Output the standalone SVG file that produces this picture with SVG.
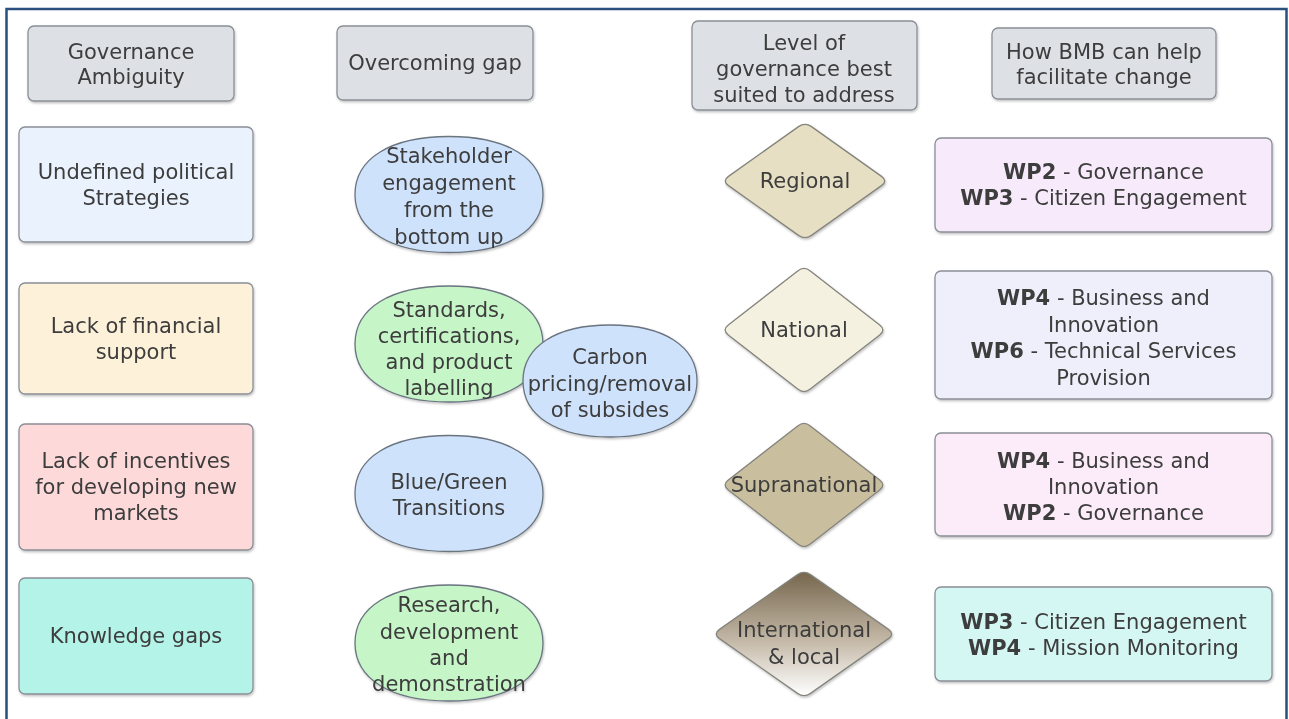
<svg xmlns="http://www.w3.org/2000/svg" width="1289" height="719" viewBox="0 0 1289 719">
<defs>
<style>
text{font-family:"DejaVu Sans","Liberation Sans",sans-serif;font-size:21px;fill:#3d3d3d;text-anchor:middle}
.hdr{fill:#dde1e6;stroke:#8a8f96;stroke-width:1.3}
.box{stroke:#8a8f96;stroke-width:1.3}
.ell{stroke:#6a7480;stroke-width:1.3}
.dia{stroke:#85847c;stroke-width:1.3}
.b{font-weight:bold}
</style>
<path id="blob" d="M-94,0 C-94,-36 -58.3,-58 0,-58 C58.3,-58 94,-36 94,0 C94,36 58.3,58 0,58 C-58.3,58 -94,36 -94,0 Z"/>
<linearGradient id="gInt" x1="0" y1="0" x2="0" y2="1">
<stop offset="0" stop-color="#76664e"/>
<stop offset="0.55" stop-color="#c3b8a6"/>
<stop offset="1" stop-color="#ffffff"/>
</linearGradient>
<filter id="sh" x="-10%" y="-10%" width="120%" height="130%">
<feDropShadow dx="0.8" dy="1.5" stdDeviation="0.8" flood-color="#000" flood-opacity="0.25"/>
</filter>
</defs>
<rect x="0" y="0" width="1289" height="719" fill="#ffffff"/>
<rect x="6.5" y="9" width="1280" height="730" fill="none" stroke="#2b4f7e" stroke-width="2.5"/>

<g id="connectors"></g>

<g id="hdr-governance" filter="url(#sh)">
<rect class="hdr" x="28" y="26" width="206" height="75" rx="6"/>
<text x="131" y="59">Governance</text>
<text x="131" y="84">Ambiguity</text>
</g>
<g id="hdr-overcoming" filter="url(#sh)">
<rect class="hdr" x="337" y="26" width="196" height="74" rx="6"/>
<text x="435" y="70">Overcoming gap</text>
</g>
<g id="hdr-level" filter="url(#sh)">
<rect class="hdr" x="692" y="21" width="225" height="89" rx="6"/>
<text x="804" y="50">Level of</text>
<text x="804" y="76">governance best</text>
<text x="804" y="102">suited to address</text>
</g>
<g id="hdr-bmb" filter="url(#sh)">
<rect class="hdr" x="992" y="28" width="224" height="71" rx="6"/>
<text x="1104" y="59">How BMB can help</text>
<text x="1104" y="84">facilitate change</text>
</g>

<g id="gap-undefined" filter="url(#sh)">
<rect class="box" x="19" y="127" width="234" height="115" rx="6" fill="#eaf2fd"/>
<text x="136" y="179">Undefined political</text>
<text x="136" y="205">Strategies</text>
</g>
<g id="gap-financial" filter="url(#sh)">
<rect class="box" x="19" y="283" width="234" height="111" rx="6" fill="#fdf1d9"/>
<text x="136" y="333">Lack of financial</text>
<text x="136" y="359">support</text>
</g>
<g id="gap-incentives" filter="url(#sh)">
<rect class="box" x="19" y="424" width="234" height="126" rx="6" fill="#fdd9da"/>
<text x="136" y="468">Lack of incentives</text>
<text x="136" y="494">for developing new</text>
<text x="136" y="520">markets</text>
</g>
<g id="gap-knowledge" filter="url(#sh)">
<rect class="box" x="19" y="578" width="234" height="116" rx="6" fill="#b4f3e8"/>
<text x="136" y="643">Knowledge gaps</text>
</g>

<g id="ov-stakeholder" filter="url(#sh)">
<use href="#blob" class="ell" transform="translate(449,194.5)" fill="#cfe2fb"/>
<text x="449" y="163">Stakeholder</text>
<text x="449" y="190">engagement</text>
<text x="449" y="217">from the</text>
<text x="449" y="244">bottom up</text>
</g>
<g id="ov-standards" filter="url(#sh)">
<use href="#blob" class="ell" transform="translate(449,344)" fill="#c6f5c7"/>
<text x="449" y="317">Standards,</text>
<text x="449" y="343">certifications,</text>
<text x="449" y="369">and product</text>
<text x="449" y="395">labelling</text>
</g>
<g id="ov-carbon" filter="url(#sh)">
<path class="ell" fill="#cfe2fb" d="M523,381 C523,346.3 556.1,325 610,325 C663.9,325 697,346.3 697,381 C697,415.7 663.9,437 610,437 C556.1,437 523,415.7 523,381 Z"/>
<text x="610" y="364">Carbon</text>
<text x="610" y="391">pricing/removal</text>
<text x="610" y="417">of subsides</text>
</g>
<g id="ov-bluegreen" filter="url(#sh)">
<use href="#blob" class="ell" transform="translate(449,493.5)" fill="#cfe2fb"/>
<text x="449" y="489">Blue/Green</text>
<text x="449" y="515">Transitions</text>
</g>
<g id="ov-research" filter="url(#sh)">
<use href="#blob" class="ell" transform="translate(449,643)" fill="#c6f5c7"/>
<text x="449" y="612">Research,</text>
<text x="449" y="639">development</text>
<text x="449" y="665">and</text>
<text x="449" y="691">demonstration</text>
</g>

<g id="lvl-regional" filter="url(#sh)">
<path class="dia" fill="#e6dfc3" d="M798.5,126.6 Q805,122 811.5,126.6 L881.5,176.4 Q888,181 881.5,185.6 L811.5,235.4 Q805,240 798.5,235.4 L728.5,185.6 Q722,181 728.5,176.4 Z"/>
<text x="805" y="188">Regional</text>
</g>
<g id="lvl-national" filter="url(#sh)">
<path class="dia" fill="#f4f1e1" d="M797.7,270.9 Q804,266 810.3,270.9 L879.7,325.1 Q886,330 879.7,334.9 L810.3,389.1 Q804,394 797.7,389.1 L728.3,334.9 Q722,330 728.3,325.1 Z"/>
<text x="804" y="337">National</text>
</g>
<g id="lvl-supranational" filter="url(#sh)">
<path class="dia" fill="#c9be9e" d="M797.7,425.9 Q804,421 810.3,425.9 L879.7,480.1 Q886,485 879.7,489.9 L810.3,544.1 Q804,549 797.7,544.1 L728.3,489.9 Q722,485 728.3,480.1 Z"/>
<text x="804" y="492">Supranational</text>
</g>
<g id="lvl-international" filter="url(#sh)">
<path class="dia" fill="url(#gInt)" d="M797.5,574.6 Q804,570 810.5,574.6 L888.5,629.4 Q895,634 888.5,638.6 L810.5,693.4 Q804,698 797.5,693.4 L719.5,638.6 Q713,634 719.5,629.4 Z"/>
<text x="804" y="637">International</text>
<text x="804" y="664">&amp; local</text>
</g>

<g id="bmb-1" filter="url(#sh)">
<rect class="box" x="935" y="138" width="337" height="94" rx="6" fill="#f7ebfb"/>
<text x="1103.5" y="179"><tspan class="b">WP2</tspan> - Governance</text>
<text x="1103.5" y="205"><tspan class="b">WP3</tspan> - Citizen Engagement</text>
</g>
<g id="bmb-2" filter="url(#sh)">
<rect class="box" x="935" y="271" width="337" height="128" rx="6" fill="#efeffb"/>
<text x="1103.5" y="305"><tspan class="b">WP4</tspan> - Business and</text>
<text x="1103.5" y="332">Innovation</text>
<text x="1103.5" y="358"><tspan class="b">WP6</tspan> - Technical Services</text>
<text x="1103.5" y="385">Provision</text>
</g>
<g id="bmb-3" filter="url(#sh)">
<rect class="box" x="935" y="433" width="337" height="103" rx="6" fill="#fcecfa"/>
<text x="1103.5" y="468"><tspan class="b">WP4</tspan> - Business and</text>
<text x="1103.5" y="494">Innovation</text>
<text x="1103.5" y="520"><tspan class="b">WP2</tspan> - Governance</text>
</g>
<g id="bmb-4" filter="url(#sh)">
<rect class="box" x="935" y="587" width="337" height="94" rx="6" fill="#d5f7f3"/>
<text x="1103.5" y="629"><tspan class="b">WP3</tspan> - Citizen Engagement</text>
<text x="1103.5" y="655"><tspan class="b">WP4</tspan> - Mission Monitoring</text>
</g>
</svg>
